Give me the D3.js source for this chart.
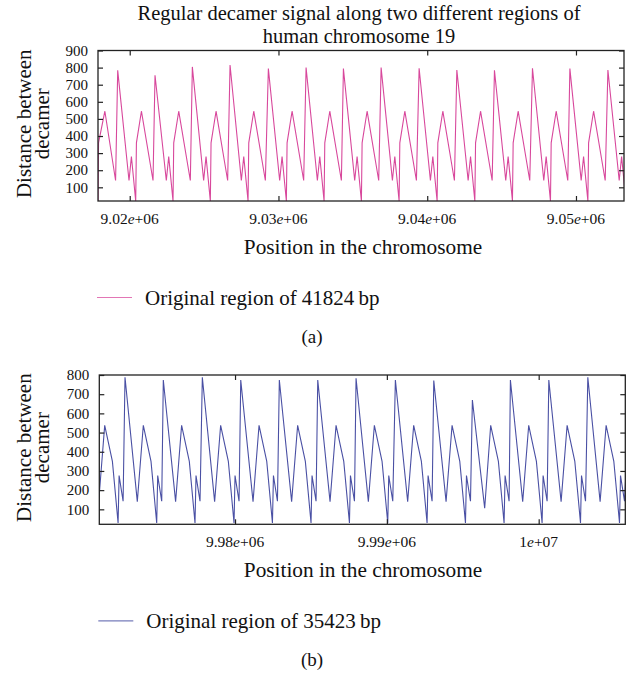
<!DOCTYPE html>
<html>
<head>
<meta charset="utf-8">
<script src="https://cdn.jsdelivr.net/npm/d3@7"></script>
<style>
  body { margin: 0; background: #fff; }
  svg text { font-family: "Liberation Serif", "Times New Roman", serif; fill: #111; }
</style>
</head>
<body>
<svg id="chart" width="631" height="674"></svg>
<script>
// region (a): position along chr19 and distance between decamers
var topPos = [
    9017870, 9017905, 9018330, 9019050,
    9019193, 9019953, 9020114, 9020403, 9020451, 9020787, 9021567,
    9021701, 9022461, 9022622, 9022911, 9022959, 9023295, 9024075,
    9024210, 9024970, 9025131, 9025420, 9025468, 9025804, 9026584,
    9026745, 9027505, 9027666, 9027955, 9028003, 9028339, 9029119,
    9029321, 9030081, 9030242, 9030531, 9030579, 9030915, 9031695,
    9031856, 9032616, 9032777, 9033066, 9033114, 9033450, 9034230,
    9034365, 9035125, 9035286, 9035575, 9035623, 9035959, 9036739,
    9036900, 9037660, 9037821, 9038110, 9038158, 9038494, 9039274,
    9039455, 9040215, 9040376, 9040665, 9040713, 9041049, 9041829,
    9041991, 9042751, 9042912, 9043201, 9043249, 9043585, 9044365,
    9044519, 9045279, 9045440, 9045729, 9045777, 9046113, 9046893,
    9047075, 9047835, 9047996, 9048285, 9048333, 9048669, 9049449,
    9049590, 9050350, 9050511, 9050800, 9050848, 9051184, 9051964,
    9052146, 9052906, 9053067, 9053356
];
var topDist = [
    20, 360, 545, 140,
    784, 140, 280, 20, 360, 545, 140,
    755, 140, 280, 20, 360, 545, 140,
    804, 140, 280, 20, 360, 545, 140,
    815, 140, 280, 20, 360, 545, 140,
    794, 140, 280, 20, 360, 545, 140,
    800, 140, 280, 20, 360, 545, 140,
    794, 140, 280, 20, 360, 545, 140,
    800, 140, 280, 20, 360, 545, 140,
    796, 140, 280, 20, 360, 545, 140,
    786, 140, 280, 20, 360, 545, 140,
    784, 140, 280, 20, 360, 545, 140,
    796, 140, 280, 20, 360, 545, 140,
    794, 140, 280, 20, 360, 545, 140,
    786, 140, 280, 20
];

// region (b)
var bottomPos = [
    9971020, 9971416, 9971923, 9972298, 9972364, 9972628,
    9972753, 9973563, 9973959, 9974466, 9974841, 9974907, 9975171,
    9975276, 9976086, 9976482, 9976989, 9977364, 9977430, 9977694,
    9977846, 9978656, 9979052, 9979559, 9979934, 9980000, 9980264,
    9980376, 9981186, 9981582, 9982089, 9982464, 9982530, 9982794,
    9982918, 9983728, 9984124, 9984631, 9985006, 9985072, 9985336,
    9985448, 9986258, 9986654, 9987161, 9987536, 9987602, 9987866,
    9987971, 9988781, 9989177, 9989684, 9990059, 9990125, 9990389,
    9990561, 9991371, 9991767, 9992274, 9992649, 9992715, 9992979,
    9993090, 9993900, 9994296, 9994803, 9995178, 9995244, 9995508,
    9995633, 9996443, 9996839, 9997346, 9997721, 9997787, 9998051,
    9998137, 9998947, 9999343, 9999850, 10000225, 10000291, 10000555,
    10000667, 10001477, 10001873, 10002380, 10002755, 10002821, 10003085,
    10003236, 10004046, 10004442, 10004949, 10005324, 10005390, 10005654,
    10006060
];
var bottomDist = [
    140, 538, 350, 29, 276, 142,
    788, 140, 538, 350, 29, 276, 142,
    774, 140, 538, 350, 29, 276, 142,
    788, 140, 538, 350, 29, 276, 142,
    774, 140, 538, 350, 29, 276, 142,
    774, 140, 538, 350, 29, 276, 142,
    774, 140, 538, 350, 29, 276, 142,
    783, 140, 538, 350, 29, 276, 142,
    774, 140, 538, 350, 29, 276, 142,
    771, 140, 538, 350, 29, 276, 142,
    670, 106, 538, 350, 29, 276, 142,
    774, 140, 538, 350, 29, 276, 142,
    774, 140, 538, 350, 29, 276, 142,
    788, 140, 538, 350, 29, 276, 142,
    780
];

var topXTicks = [9020000, 9030000, 9040000, 9050000];
var topYTicks = [100, 200, 300, 400, 500, 600, 700, 800, 900];
var bottomXTicks = [9980000, 9990000, 10000000];
var bottomYTicks = [100, 200, 300, 400, 500, 600, 700, 800];

var titleLines = ["Regular decamer signal along two different regions of", "human chromosome 19"];
var yLabelLines = ["Distance between", "decamer"];
var xLabel = "Position in the chromosome";

var svg = d3.select("#chart");

svg.selectAll(".title").data(titleLines).enter().append("text")
    .attr("x", 359)
    .attr("y", function(d, i) { return i ? 42.6 : 19.8; })
    .attr("text-anchor", "middle")
    .style("font-size", "20.5px")
    .text(function(d) { return d; });

// gnuplot writes 9.02e+06 with an italic e
function sciLabel(v) {
    var s = d3.format(".3~e")(v),
        parts = s.split("e"),
        exp = parts[1].replace("+", ""),
        sign = exp.charAt(0) == "-" ? "-" : "+";
    exp = exp.replace("-", "");
    if (exp.length < 2) exp = "0" + exp;
    return [parts[0], sign + exp];
}

function drawPanel(p) {
    var x = d3.scaleLinear().domain(p.xDomain).range([p.left, p.right]),
        y = d3.scaleLinear().domain(p.yDomain).range([p.bottom, p.top]),
        g = svg.append("g");

    g.append("clipPath").attr("id", p.id + "clip")
        .append("rect")
            .attr("x", p.left).attr("y", p.top)
            .attr("width", p.right - p.left).attr("height", p.bottom - p.top);

    var points = p.pos.map(function(d, i) { return [d, p.dist[i]]; });
    g.append("path")
        .datum(points)
        .attr("clip-path", "url(#" + p.id + "clip)")
        .attr("fill", "none")
        .attr("stroke", p.color)
        .attr("stroke-width", 1.1)
        .attr("d", d3.line()
            .x(function(d) { return x(d[0]); })
            .y(function(d) { return y(d[1]); }));

    // inward ticks on all four sides
    var tickLen = 5;
    g.append("g").attr("transform", "translate(0," + p.bottom + ")")
        .call(d3.axisBottom(x).tickValues(p.xTicks).tickSize(-tickLen).tickFormat(""));
    g.append("g").attr("transform", "translate(0," + p.top + ")")
        .call(d3.axisTop(x).tickValues(p.xTicks).tickSize(-tickLen).tickFormat(""));
    g.append("g").attr("transform", "translate(" + p.left + ",0)")
        .call(d3.axisLeft(y).tickValues(p.yTicks).tickSize(-tickLen).tickFormat(""));
    g.append("g").attr("transform", "translate(" + p.right + ",0)")
        .call(d3.axisRight(y).tickValues(p.yTicks).tickSize(-tickLen).tickFormat(""));
    g.selectAll(".domain").remove();
    g.selectAll(".tick line").attr("stroke", "#222").attr("stroke-width", 1.2);

    g.append("rect")
        .attr("x", p.left).attr("y", p.top)
        .attr("width", p.right - p.left).attr("height", p.bottom - p.top)
        .attr("fill", "none").attr("stroke", "#222").attr("stroke-width", 1.3);

    g.selectAll(".ylab").data(p.yTicks).enter().append("text")
        .attr("x", p.left - 10).attr("y", function(d) { return y(d); })
        .attr("dy", "0.35em")
        .attr("text-anchor", "end")
        .style("font-size", "15px")
        .text(function(d) { return d; });

    var xl = g.selectAll(".xlab").data(p.xTicks).enter().append("text")
        .attr("x", function(d) { return x(d); }).attr("y", p.bottom + 22.5)
        .attr("text-anchor", "middle")
        .style("font-size", "15.5px");
    xl.append("tspan").text(function(d) { return sciLabel(d)[0]; });
    xl.append("tspan").style("font-style", "italic").text("e");
    xl.append("tspan").text(function(d) { return sciLabel(d)[1]; });

    var mid = (p.top + p.bottom) / 2 - 2;
    g.selectAll(".yaxis").data(yLabelLines).enter().append("text")
        .attr("transform", function(d, i) {
            return "translate(" + (i ? 49 : 30.5) + "," + mid + ") rotate(-90)";
        })
        .attr("text-anchor", "middle")
        .style("font-size", "21px")
        .text(function(d) { return d; });

    g.append("text")
        .attr("x", 363).attr("y", p.bottom + 53)
        .attr("text-anchor", "middle")
        .style("font-size", "21.3px")
        .text(xLabel);

    g.append("line")
        .attr("x1", p.left - 1).attr("x2", p.left + 34)
        .attr("y1", p.bottom + 96.5).attr("y2", p.bottom + 96.5)
        .attr("stroke", p.color).attr("stroke-width", 1.2)
        .attr("stroke-opacity", 0.75);
    g.append("text")
        .attr("x", p.left + 47).attr("y", p.bottom + 103.5)
        .style("font-size", "21px")
        .text(p.legend);

    g.append("text")
        .attr("x", 312).attr("y", p.bottom + 142)
        .attr("text-anchor", "middle")
        .style("font-size", "19px")
        .text(p.caption);
}

drawPanel({
    id: "a", pos: topPos, dist: topDist,
    xDomain: [9017868, 9053228], yDomain: [20, 900],
    xTicks: topXTicks, yTicks: topYTicks,
    left: 98, right: 624, top: 50.5, bottom: 201,
    color: "#d8489c",
    legend: "Original region of 41824\u2009bp", caption: "(a)"
});

drawPanel({
    id: "b", pos: bottomPos, dist: bottomDist,
    xDomain: [9971060, 10005705], yDomain: [22, 800],
    xTicks: bottomXTicks, yTicks: bottomYTicks,
    left: 99.3, right: 625.3, top: 375, bottom: 524.3,
    color: "#4a50a4",
    legend: "Original region of 35423\u2009bp", caption: "(b)"
});
</script>
</body>
</html>
